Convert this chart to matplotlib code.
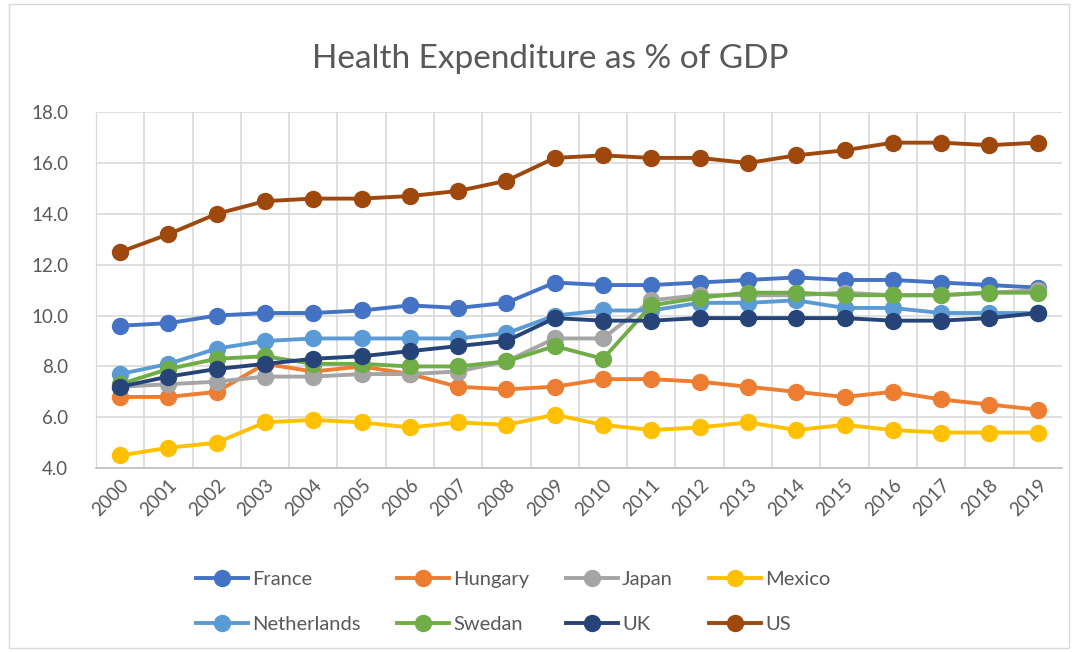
import matplotlib
matplotlib.use('Agg')
import matplotlib.pyplot as plt
from matplotlib.patches import Rectangle

years = [str(y) for y in range(2000, 2020)]

france = [9.6, 9.7, 10.0, 10.1, 10.1, 10.2, 10.4, 10.3, 10.5, 11.3,
          11.2, 11.2, 11.3, 11.4, 11.5, 11.4, 11.4, 11.3, 11.2, 11.1]
hungary = [6.8, 6.8, 7.0, 8.1, 7.8, 8.0, 7.7, 7.2, 7.1, 7.2,
           7.5, 7.5, 7.4, 7.2, 7.0, 6.8, 7.0, 6.7, 6.5, 6.3]
japan = [7.2, 7.3, 7.4, 7.6, 7.6, 7.7, 7.7, 7.8, 8.2, 9.1,
         9.1, 10.6, 10.8, 10.8, 10.8, 10.9, 10.8, 10.8, 10.9, 11.0]
mexico = [4.5, 4.8, 5.0, 5.8, 5.9, 5.8, 5.6, 5.8, 5.7, 6.1,
          5.7, 5.5, 5.6, 5.8, 5.5, 5.7, 5.5, 5.4, 5.4, 5.4]
netherlands = [7.7, 8.1, 8.7, 9.0, 9.1, 9.1, 9.1, 9.1, 9.3, 10.0,
               10.2, 10.2, 10.5, 10.5, 10.6, 10.3, 10.3, 10.1, 10.1, 10.1]
sweden = [7.3, 7.9, 8.3, 8.4, 8.1, 8.1, 8.0, 8.0, 8.2, 8.8,
          8.3, 10.4, 10.7, 10.9, 10.9, 10.8, 10.8, 10.8, 10.9, 10.9]
uk = [7.2, 7.6, 7.9, 8.1, 8.3, 8.4, 8.6, 8.8, 9.0, 9.9,
      9.8, 9.8, 9.9, 9.9, 9.9, 9.9, 9.8, 9.8, 9.9, 10.1]
us = [12.5, 13.2, 14.0, 14.5, 14.6, 14.6, 14.7, 14.9, 15.3, 16.2,
      16.3, 16.2, 16.2, 16.0, 16.3, 16.5, 16.8, 16.8, 16.7, 16.8]

names = ['France', 'Hungary', 'Japan', 'Mexico', 'Netherlands', 'Swedan', 'UK', 'US']
series = [france, hungary, japan, mexico, netherlands, sweden, uk, us]
colors = ['#4472C4', '#ED7D31', '#A5A5A5', '#FFC000',
          '#5B9BD5', '#70AD47', '#264478', '#9E480E']

plt.rcParams['font.family'] = ['Lato', 'DejaVu Sans']
txt = '#595959'

fig = plt.figure(figsize=(10.78, 6.52), dpi=100)
ax = fig.add_axes([0.089, 0.282, 0.896, 0.546])
fig.patches.append(Rectangle((0.008, 0.006), 0.984, 0.988, transform=fig.transFigure,
                             fill=False, edgecolor='#d9d9d9', lw=1))

x = list(range(len(years)))
lines = []
for name, vals, c in zip(names, series, colors):
    l, = ax.plot(x, vals, '-o', color=c, lw=2.8, ms=11.5, label=name)
    lines.append(l)

ax.set_xlim(-0.5, len(years) - 0.5)
ax.set_ylim(4, 18)
ax.set_yticks(range(4, 19, 2))
ax.set_yticklabels(['%.1f' % v for v in range(4, 19, 2)])
ax.set_xticks(x)
ax.set_xticklabels(years, rotation=45, ha='right', rotation_mode='anchor')
ax.set_xticks([i + 0.5 for i in x[:-1]], minor=True)
ax.grid(True, axis='y', color='#d9d9d9', lw=1.2)
ax.grid(True, axis='x', which='minor', color='#d9d9d9', lw=1.2)
ax.set_axisbelow(True)
ax.tick_params(axis='both', which='both', length=0, labelsize=13.5, colors=txt)
ax.tick_params(axis='y', pad=20)
ax.tick_params(axis='x', pad=6)
for s in ['top', 'right']:
    ax.spines[s].set_visible(False)
ax.spines['left'].set_color('#d9d9d9')
ax.spines['bottom'].set_color('#bfbfbf')
ax.spines['bottom'].set_linewidth(1.2)

fig.text(0.51, 0.91, 'Health Expenditure as % of GDP', ha='center', va='center',
         fontsize=24, color=txt)

# legend fills column-wise, so reorder to get row-wise layout
order = [0, 4, 1, 5, 2, 6, 3, 7]
fig.legend([lines[i] for i in order], [names[i] for i in order],
           loc='center', bbox_to_anchor=(0.476, 0.077), ncol=4, frameon=False,
           fontsize=14.5, labelcolor=txt, handlelength=2.6, handletextpad=0.2,
           columnspacing=1.8, labelspacing=1.4)

fig.savefig('out.png', dpi=100)
